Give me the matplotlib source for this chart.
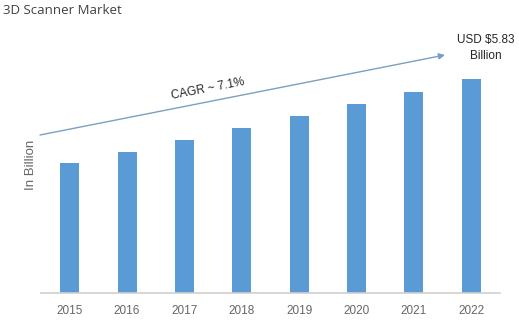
import matplotlib.pyplot as plt
import numpy as np

years = ["2015", "2016", "2017", "2018", "2019", "2020", "2021", "2022"]
market = [3.54, 3.84, 4.17, 4.49, 4.82, 5.15, 5.48, 5.83]
cagr_label = "CAGR ~ 7.1%"
end_label = "USD $5.83\nBillion"

W, H = 519, 327
fig = plt.figure(figsize=(W / 100, H / 100), dpi=100)

# axes box in pixels: left 41, right 500, baseline at 293, top at 20
ax = fig.add_axes([41 / W, (H - 293) / H, 459 / W, 273 / H])
x = np.arange(len(years))
ax.bar(x, market, width=0.33, color="#5b9bd5")
ax.set_xlim(-0.5, len(years) - 0.5)
ax.set_ylim(0, 5.83 * 273 / 214)

ax.set_xticks(x)
ax.set_xticklabels(years, fontsize=8.5, color="#666666", family="Liberation Sans")
ax.tick_params(axis="x", length=0, pad=9)
ax.set_yticks([])
for s in ["top", "right", "left"]:
    ax.spines[s].set_visible(False)
ax.spines["bottom"].set_color("#d0d0d0")
ax.spines["bottom"].set_linewidth(1.2)

fig.text(3 / W, 1 - 10 / H, "3D Scanner Market", fontsize=9.5, color="#404040",
         family="Open Sans", va="center", ha="left")

fig.text(31 / W, 1 - 165 / H, "In Billion", rotation=90, fontsize=9.5,
         color="#666666", family="Liberation Sans", va="center", ha="center")

# growth arrow
ax.annotate("", xy=(445 / W, 1 - 55 / H), xytext=(40 / W, 1 - 135 / H),
            xycoords="figure fraction", textcoords="figure fraction",
            arrowprops=dict(arrowstyle="-|>", color="#7a9fc2", lw=1,
                            mutation_scale=9, shrinkA=0, shrinkB=0))
fig.text(208 / W, 1 - 89 / H, cagr_label, rotation=11, fontsize=8.5,
         color="#262626", family="Liberation Sans", ha="center", va="center",
         rotation_mode="anchor")
fig.text(486 / W, 1 - 48 / H, end_label, fontsize=8.5, color="#262626",
         family="Liberation Sans", ha="center", va="center", linespacing=1.4)

fig.savefig("out.png", dpi=100)
